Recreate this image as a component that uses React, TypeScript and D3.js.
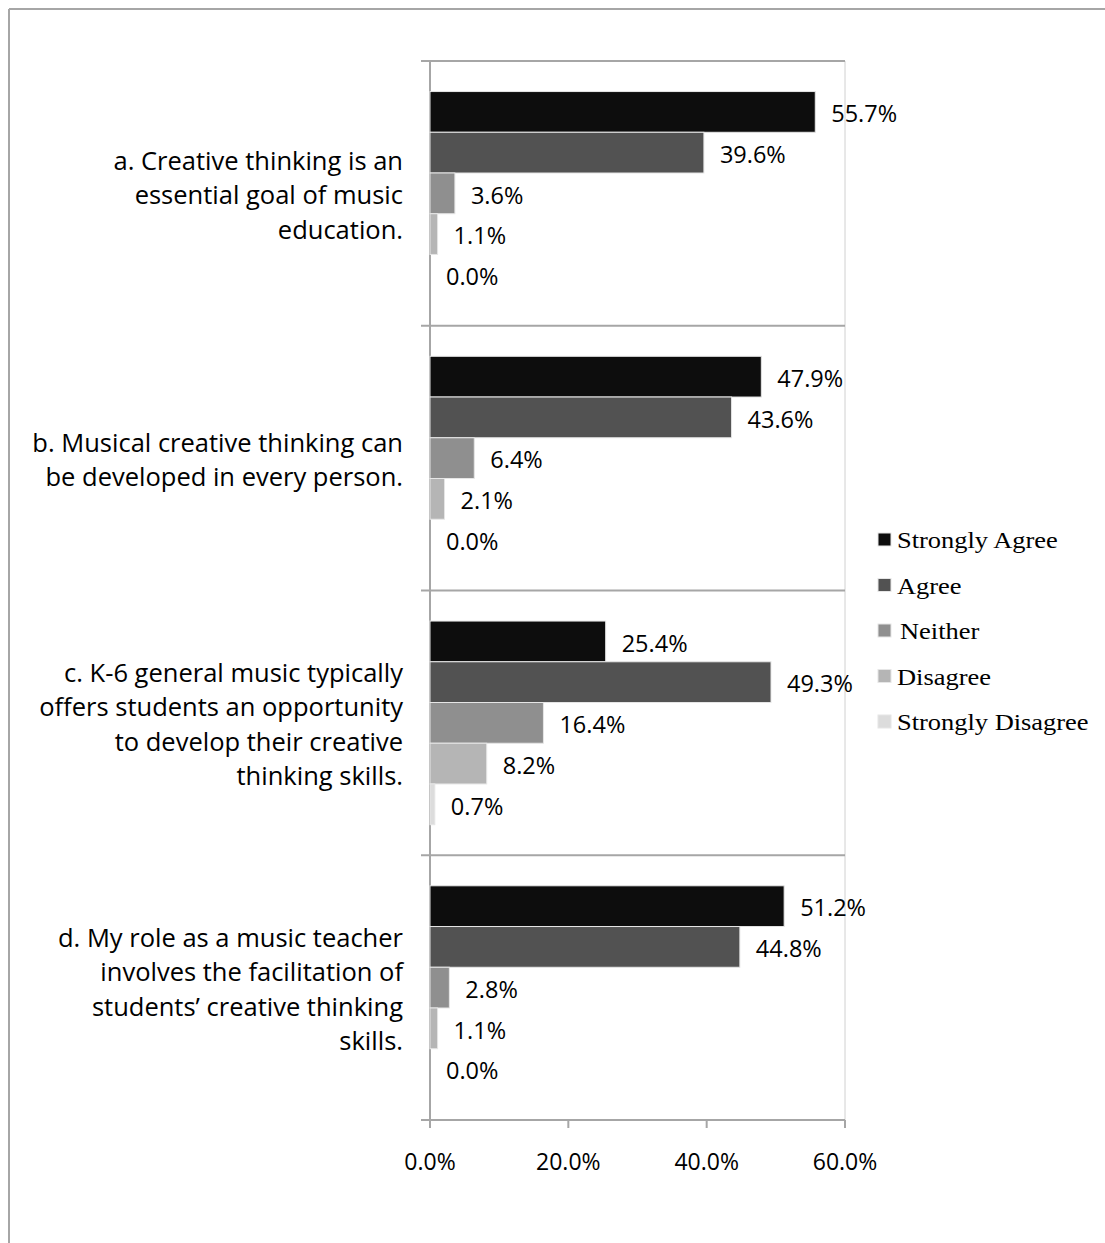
import React from "react";
import * as d3 from "d3";

const categoryLines: string[][] = [
  ["a. Creative thinking is an", "essential goal of music", "education."],
  ["b. Musical creative thinking can", "be developed in every person."],
  ["c. K-6 general music typically", "offers students an opportunity", "to develop their creative", "thinking skills."],
  ["d. My role as a music teacher", "involves the facilitation of", "students\u2019 creative thinking", "skills."],
];
const categories = ["a", "b", "c", "d"];
const seriesNames = ["Strongly Agree", "Agree", "Neither", "Disagree", "Strongly Disagree"];
const stronglyAgree = [55.7, 47.9, 25.4, 51.2];
const agree = [39.6, 43.6, 49.3, 44.8];
const neither = [3.6, 6.4, 16.4, 2.8];
const disagree = [1.1, 2.1, 8.2, 1.1];
const stronglyDisagree = [0.0, 0.0, 0.7, 0.0];
const xTicks = [0, 20, 40, 60];
const colors = ["#0d0d0d", "#525252", "#8f8f8f", "#b5b5b5", "#dcdcdc"];

const seriesValues = [stronglyAgree, agree, neither, disagree, stronglyDisagree];

export default function App() {
  const W = 1105;
  const H = 1243;
  const left = 430;
  const right = 845;
  const top = 61;
  const bottom = 1120;
  const x = d3.scaleLinear().domain([0, 60]).range([left, right]);
  const y0 = d3.scaleBand<string>().domain(categories).range([top, bottom]).padding(0);
  const y1 = d3
    .scaleBand<string>()
    .domain(seriesNames)
    .range([0, y0.bandwidth()])
    .paddingInner(0)
    .paddingOuter(0.75);
  const sans = "'Open Sans', 'Noto Sans', sans-serif";
  const serif = "'Liberation Serif', 'Times New Roman', serif";
  const boundaries = [...categories.map((c) => y0(c) as number), bottom];
  const lineH = 34.5;

  return (
    <svg
      width={W}
      height={H}
      style={{ position: "absolute", left: 0, top: 0, background: "#fff" }}
    >
      {/* outer frame */}
      <line x1={9} x2={9} y1={9} y2={H} stroke="#a6a6a6" strokeWidth={2} />
      <line x1={9} x2={W} y1={9} y2={9} stroke="#a6a6a6" strokeWidth={2} />

      {/* plot right border */}
      <line x1={right} x2={right} y1={top} y2={bottom} stroke="#d0d0d0" strokeWidth={1} />

      {/* category separators / ticks */}
      {boundaries.map((b, i) => (
        <line key={"b" + i} x1={421} x2={right} y1={b} y2={b} stroke="#a6a6a6" strokeWidth={2} />
      ))}
      {/* y axis */}
      <line x1={left} x2={left} y1={top} y2={bottom + 8} stroke="#a6a6a6" strokeWidth={2} />
      {/* x ticks */}
      {xTicks.map((t) => (
        <g key={"t" + t}>
          <line x1={x(t)} x2={x(t)} y1={bottom} y2={bottom + 8} stroke="#a6a6a6" strokeWidth={2} />
          <text
            x={x(t)}
            y={1164}
            textAnchor="middle"
            dominantBaseline="middle"
            fontFamily={sans}
            fontSize={23}
            fill="#000"
          >
            {t.toFixed(1) + "%"}
          </text>
        </g>
      ))}

      {/* bars */}
      {categories.map((c, ci) => (
        <g key={"c" + c}>
          {seriesNames.map((s, si) => {
            const v = seriesValues[si][ci];
            const yy = (y0(c) as number) + (y1(s) as number);
            const h = y1.bandwidth();
            return (
              <g key={s}>
                {v > 0 && (
                  <rect
                    x={x(0)}
                    y={yy}
                    width={x(v) - x(0)}
                    height={h}
                    fill={colors[si]}
                    stroke="#e6e6e6"
                    strokeWidth={1}
                  />
                )}
                <text
                  x={x(v) + 16}
                  y={yy + h / 2 + 4}
                  dominantBaseline="middle"
                  fontFamily={sans}
                  fontSize={23.5}
                  fill="#000"
                >
                  {v.toFixed(1) + "%"}
                </text>
              </g>
            );
          })}
          {categoryLines[ci].map((ln, li) => {
            const n = categoryLines[ci].length;
            const cy = (y0(c) as number) + y0.bandwidth() / 2 + 4;
            return (
              <text
                key={"l" + li}
                x={403}
                y={cy + (li - (n - 1) / 2) * lineH}
                textAnchor="end"
                dominantBaseline="middle"
                fontFamily={sans}
                fontSize={25.5}
                fill="#000"
              >
                {ln}
              </text>
            );
          })}
        </g>
      ))}

      {/* legend */}
      {seriesNames.map((s, i) => (
        <g key={"lg" + s}>
          <rect x={878} y={533 + i * 45.5} width={13} height={13} fill={colors[i]} stroke="#e6e6e6" strokeWidth={1} />
          <text
            transform={`translate(${s === "Neither" ? 900 : 897},${548 + i * 45.5}) scale(1.15,1)`}
            fontFamily={serif}
            fontSize={23}
            fill="#000"
          >
            {s}
          </text>
        </g>
      ))}
    </svg>
  );
}
